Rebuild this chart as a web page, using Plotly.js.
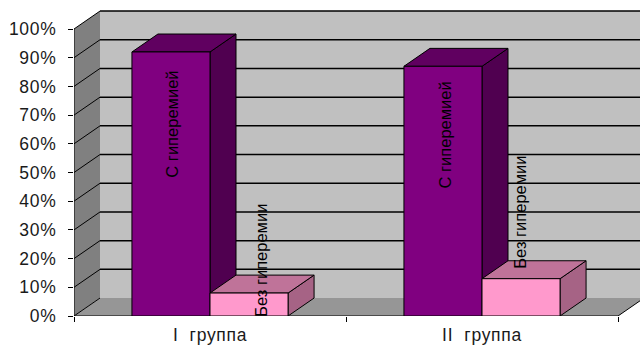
<!DOCTYPE html>
<html>
<head>
<meta charset="utf-8">
<script src="https://cdn.plot.ly/plotly-3.0.1.min.js"></script>
<style>
html,body{margin:0;padding:0;background:#fff}
#chart{width:640px;height:345px}
/* Axis labels are set a little wider than the plain font */
.xtick text,.ytick text{letter-spacing:.7px}
</style>
</head>
<body>
<div id="chart"></div>
<script>
// Share of patients with and without hyperemia in each group
const categories = ['I  группа', 'II  группа'];
const seriesNames = ['С гиперемией', 'Без гиперемии'];
const withHyperemia = [92, 87];
const withoutHyperemia = [8, 13];
const percentTicks = [0, 10, 20, 30, 40, 50, 60, 70, 80, 90, 100];

// Oblique projection: the box recedes by this much in axis units
const DX = 0.0956, DY = 6.25;
const BAR_W = 0.287;
const X0 = 0.5, X1 = 2.5;

function poly(xs, ys, fill, line) {
  return {
    x: xs.concat(xs[0]), y: ys.concat(ys[0]),
    mode: 'lines', fill: 'toself', fillcolor: fill,
    line: { color: line || '#000', width: 1 },
    hoverinfo: 'skip', showlegend: false
  };
}

// One oblique column: side and top faces first, then the front
function prism(left, value, front, top, side) {
  const right = left + BAR_W;
  return [
    poly([right, right + DX, right + DX, right], [0, DY, value + DY, value], side),
    poly([left, left + DX, right + DX, right], [value, value + DY, value + DY, value], top),
    poly([left, right, right, left], [0, 0, value, value], front)
  ];
}

const traces = [];
categories.forEach((c, i) => {
  const centre = i + 1;
  traces.push(...prism(centre - BAR_W, withHyperemia[i], '#800080', '#600060', '#500050'));
  traces.push(...prism(centre, withoutHyperemia[i], '#FF99CC', '#BF7399', '#A66385'));
});

// Walls and floor of the chart box
const shapes = [
  { type: 'path', layer: 'below', line: { width: 0 }, fillcolor: '#C0C0C0',
    path: `M${X0 + DX},${DY} L${X1 + DX},${DY} L${X1 + DX},${100 + DY} L${X0 + DX},${100 + DY} Z` },
  { type: 'path', layer: 'below', line: { width: 0 }, fillcolor: '#808080',
    path: `M${X0},0 L${X0 + DX},${DY} L${X0 + DX},${100 + DY} L${X0},100 Z` },
  { type: 'path', layer: 'below', line: { width: 0 }, fillcolor: '#969696',
    path: `M${X0},0 L${X1},0 L${X1 + DX},${DY} L${X0 + DX},${DY} Z` }
];
const gridLine = { color: '#000', width: 1.5 };
percentTicks.forEach(t => {
  shapes.push({ type: 'line', layer: 'below', x0: X0, y0: t, x1: X0 + DX, y1: t + DY, line: { color: '#000', width: 1 } });
  if (t > 0) shapes.push({ type: 'line', layer: 'below', x0: X0 + DX, y0: t + DY, x1: X1 + DX, y1: t + DY, line: gridLine });
});
shapes.push({ type: 'line', layer: 'below', x0: X0, y0: 0, x1: X0, y1: 100, line: { color: '#000', width: 1 } });
shapes.push({ type: 'line', layer: 'below', x0: X0, y0: 0, x1: X1, y1: 0, line: { color: '#000', width: 1 } });
shapes.push({ type: 'line', layer: 'below', x0: X1, y0: 0, x1: X1 + DX, y1: DY, line: { color: '#000', width: 1 } });

// Vertical series labels sitting over the columns
const labelFont = { family: '"Liberation Sans", Arial, sans-serif', size: 16.5, color: '#000' };
const labelSpots = [
  { x: 0.860, y: 67, text: seriesNames[0] },
  { x: 1.187, y: 19.5, text: seriesNames[1] },
  { x: 1.865, y: 63, text: seriesNames[0] },
  { x: 2.140, y: 36, text: seriesNames[1] }
];
const annotations = labelSpots.map(s => ({
  x: s.x, y: s.y, text: s.text, textangle: -90, showarrow: false,
  xanchor: 'center', yanchor: 'middle', font: labelFont
}));

const axisFont = { family: '"Liberation Sans", Arial, sans-serif', size: 17.5, color: '#1a1a1a' };
const layout = {
  width: 640, height: 345,
  margin: { l: 74, r: 0, t: 0, b: 29, pad: 0 },
  paper_bgcolor: '#fff', plot_bgcolor: '#fff',
  showlegend: false,
  xaxis: {
    range: [X0, X0 + 566 / 272], tickvals: [1, 2], ticktext: categories,
    ticks: '', showgrid: false, zeroline: false, showline: false,
    tickfont: axisFont, ticklabelstandoff: 6, fixedrange: true,
    minor: { tickvals: [0.5, 1.5, 2.5], ticks: 'outside', ticklen: 5, tickwidth: 1, tickcolor: '#000', showgrid: false }
  },
  yaxis: {
    range: [0, 316 / 2.87], tickvals: percentTicks, ticktext: percentTicks.map(t => t + '%'),
    ticks: 'outside', ticklen: 5, tickwidth: 1, tickcolor: '#000',
    showgrid: false, zeroline: false, showline: false,
    tickfont: axisFont, ticklabelstandoff: 8, fixedrange: true
  },
  shapes, annotations
};

Plotly.newPlot('chart', traces, layout, { displayModeBar: false, staticPlot: true });
</script>
</body>
</html>
